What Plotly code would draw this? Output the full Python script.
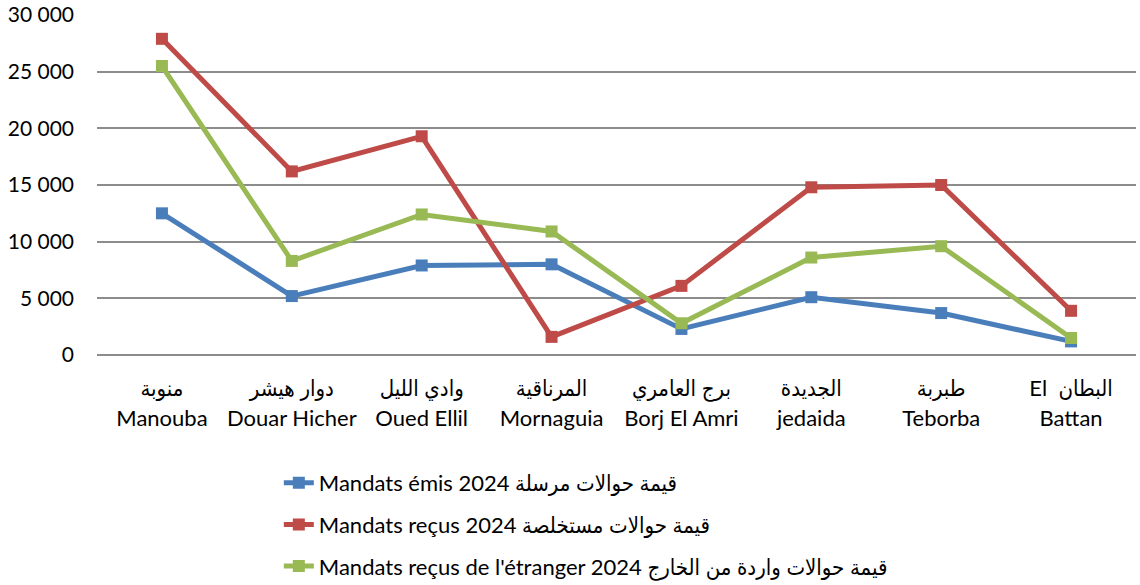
import plotly.graph_objects as go

# Delegations: Arabic names (upper label row) and French names (lower label row)
names_ar = ["منوبة", "دوار هيشر", "وادي الليل", "المرناقية", "برج العامري", "الجديدة", "طبربة", "El\u00a0\u00a0البطان"]
names_fr = ["Manouba", "Douar Hicher", "Oued Ellil", "Mornaguia", "Borj El Amri", "jedaida", "Teborba", "Battan"]

# Values of money orders, 2024
emis = [12500, 5200, 7900, 8000, 2300, 5100, 3700, 1200]
recus = [27900, 16200, 19300, 1600, 6100, 14800, 15000, 3900]
etranger = [25500, 8300, 12400, 10900, 2800, 8600, 9600, 1500]

series_names = [
    "Mandats émis 2024 قيمة حوالات مرسلة",
    "Mandats reçus 2024 قيمة حوالات مستخلصة",
    "Mandats reçus de l'étranger 2024 قيمة حوالات واردة من الخارج",
]
colors = ["#4A7EBB", "#BE4B48", "#98B954"]

y_ticks = [0, 5000, 10000, 15000, 20000, 25000, 30000]

positions = list(range(len(names_fr)))
x_range = [-0.5, len(names_fr) - 0.5]

fig = go.Figure()
# the last series sits on the overlaid x axis that carries the French labels
axes = ["x", "x", "x2"]
for i, (vals, name, col, ax) in enumerate(zip([emis, recus, etranger], series_names, colors, axes)):
    fig.add_trace(go.Scatter(
        x=positions, y=vals, name=name, mode="lines+markers",
        line=dict(color=col, width=5),
        marker=dict(symbol="square", size=12, color=col),
        legendgroup=f"g{i}", xaxis=ax, yaxis="y",
    ))

font_family = "Lato, 'DejaVu Sans Condensed', 'DejaVu Sans', sans-serif"
fs = 22

fig.update_layout(
    width=1140, height=585,
    margin=dict(l=97, r=4, t=15, b=230),
    paper_bgcolor="white", plot_bgcolor="white",
    font=dict(family=font_family, size=fs, color="#000000"),
    separators=", ",
    showlegend=True,
    legend=dict(
        xref="paper", yref="container",
        x=0.175, y=1 - 462 / 585, xanchor="left", yanchor="top",
        font=dict(family=font_family, size=fs, color="#000000"),
        tracegroupgap=10,
        bgcolor="rgba(0,0,0,0)",
    ),
    xaxis=dict(
        range=x_range, tickvals=positions, ticktext=names_ar,
        showgrid=False, showline=False, zeroline=False, automargin=False,
        ticks="", tickfont=dict(size=fs), ticklabelstandoff=18,
    ),
    xaxis2=dict(
        overlaying="x", matches="x", side="bottom",
        range=x_range, tickvals=positions, ticktext=names_fr,
        showgrid=False, showline=False, zeroline=False, automargin=False,
        ticks="", tickfont=dict(size=fs), ticklabelstandoff=48,
    ),
    yaxis=dict(
        range=[0, 30000], tickvals=y_ticks, tickformat=",d", separatethousands=True,
        showgrid=True, gridcolor="#8C8C8C", gridwidth=1.5,
        zeroline=True, zerolinecolor="#8C8C8C", zerolinewidth=1.5,
        showline=False, ticks="", ticklabelstandoff=22, automargin=False,
        tickfont=dict(size=21),
    ),
)

fig.write_html("out.html")
